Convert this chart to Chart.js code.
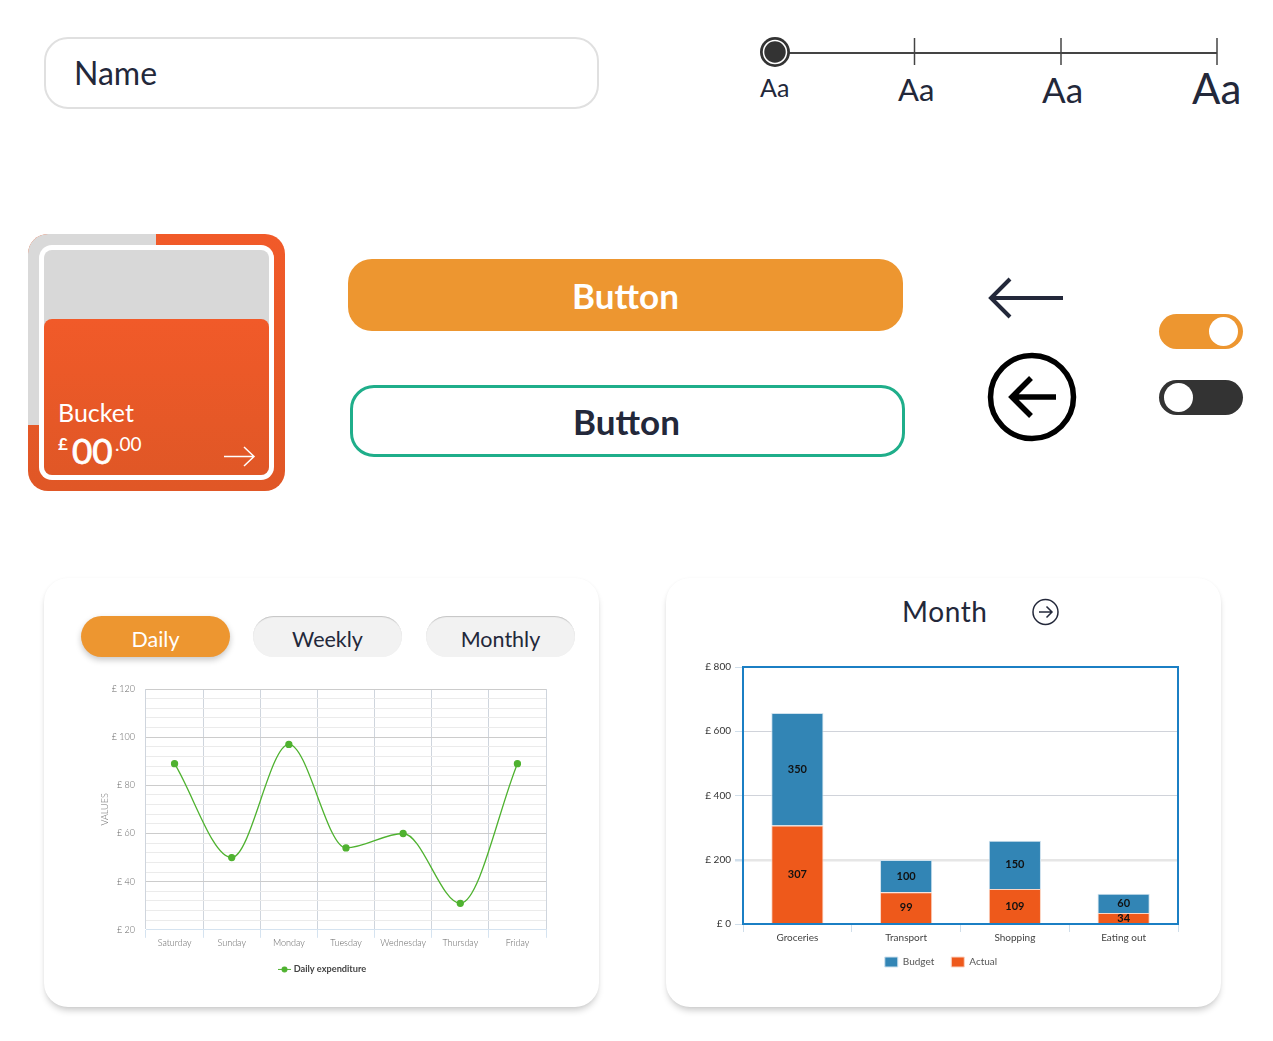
<!DOCTYPE html>
<html>
<head>
<meta charset="utf-8">
<title>UI kit</title>
<script src="https://cdn.jsdelivr.net/npm/chart.js@4"></script>
<style>
  html, body { margin: 0; padding: 0; background: #fff; overflow: hidden; }
  body { width: 1273px; height: 1041px; position: relative; font-family: Lato, sans-serif; color: #23283a; }
  .abs { position: absolute; }
  .label { position: absolute; white-space: nowrap; line-height: 1; }
  .name-box { left: 44px; top: 37px; width: 551px; height: 68px; border: 2px solid #e0e0e0; border-radius: 24px; }
  .card { background: #fff; border-radius: 24px; top: 578px; height: 429px; box-shadow: 0 5px 7px -2px rgba(0,0,0,.22), 0 0 3px rgba(0,0,0,.04); }
  .pill { position: absolute; top: 616px; height: 41px; width: 149px; border-radius: 21px; text-align: center; line-height: 46px; font-size: 21.5px; background: #f2f2f2; box-shadow: inset 0 2px 1px -1px #c4c4c4, inset 1px 0 1px -1px #ddd, inset -1px 0 1px -1px #ddd; }
  .toggle { position: absolute; left: 1159px; width: 84px; height: 35px; border-radius: 18px; }
  .knob { position: absolute; top: 3px; width: 29px; height: 29px; border-radius: 50%; background: #fff; }
  canvas { position: absolute; }
</style>
</head>
<body>
  <div class="abs name-box"></div>
  <div class="label" style="left:74px;top:57px;font-size:32px">Name</div>

  <svg class="abs" style="left:0;top:0" width="1273" height="120">
    <line x1="788" y1="53" x2="1217" y2="53" stroke="#444" stroke-width="2"/>
    <line x1="914.5" y1="38" x2="914.5" y2="65" stroke="#444" stroke-width="1.5"/>
    <line x1="1061" y1="38" x2="1061" y2="65" stroke="#444" stroke-width="1.5"/>
    <line x1="1217" y1="38" x2="1217" y2="65" stroke="#444" stroke-width="1.5"/>
    <circle cx="775" cy="52" r="15" fill="#333"/>
    <circle cx="775" cy="52" r="11.5" fill="#333" stroke="#fff" stroke-width="1.5"/>
  </svg>
  <div class="label" style="left:760px;top:75px;font-size:25px">Aa</div>
  <div class="label" style="left:898px;top:74px;font-size:31px">Aa</div>
  <div class="label" style="left:1042px;top:72px;font-size:35px">Aa</div>
  <div class="label" style="left:1192px;top:67px;font-size:42px">Aa</div>

  <!-- bucket -->
  <div class="abs" style="left:28px;top:234px;width:257px;height:257px;border-radius:20px;overflow:hidden;background:linear-gradient(#f15a29,#e05726)">
    <div class="abs" style="left:0;top:0;width:128px;height:191px;background:#d9d9d9"></div>
    <div class="abs" style="left:11px;top:11px;width:235px;height:235px;border-radius:13px;background:#fff"></div>
    <div class="abs" style="left:16px;top:16px;width:225px;height:225px;border-radius:8px;background:#d8d8d8"></div>
    <div class="abs" style="left:16px;top:85px;width:225px;height:156px;border-radius:8px;background:linear-gradient(#f15a29,#e05726)"></div>
  </div>
  <div class="label" style="left:58px;top:400px;font-size:25px;color:#fff">Bucket</div>
  <div class="label" style="left:58px;top:435px;font-size:17px;font-weight:700;color:#fff">£</div>
  <div class="label" style="left:72px;top:433px;font-size:35px;color:#fff;-webkit-text-stroke:.8px #fff">00</div>
  <div class="label" style="left:115px;top:434px;font-size:19px;color:#fff">.00</div>
  <svg class="abs" style="left:222px;top:445px" width="36" height="24" fill="none" stroke="#fff" stroke-width="1.5">
    <path d="M2 11.5H32M22 2L32 11.5L22 21"/>
  </svg>

  <!-- buttons -->
  <div class="abs" style="left:348px;top:259px;width:555px;height:72px;border-radius:24px;background:#ed9630;color:#fff;font-size:35px;font-weight:700;text-align:center;line-height:73px">Button</div>
  <div class="abs" style="left:350px;top:385px;width:547px;height:66px;padding-right:2px;border:3px solid #1fae8a;border-radius:24px;font-size:35px;font-weight:700;text-align:center;line-height:67px">Button</div>

  <svg class="abs" style="left:980px;top:270px" width="100" height="180" fill="none">
    <path d="M83 28H11M30 9L11 28L30 47" stroke="#23283a" stroke-width="4"/>
    <circle cx="52" cy="127" r="41.5" stroke="#000" stroke-width="5.5"/>
    <path d="M76 127H32M51 108L32 127L51 146" stroke="#000" stroke-width="5.5"/>
  </svg>

  <div class="toggle" style="top:314px;background:#ed9630"><div class="knob" style="left:50px"></div></div>
  <div class="toggle" style="top:380px;background:#333"><div class="knob" style="left:5px"></div></div>

  <!-- cards -->
  <div class="abs card" style="left:44px;width:555px"></div>
  <div class="abs card" style="left:666px;width:555px"></div>

  <div class="pill" style="left:81px;background:#ed9630;color:#fff;box-shadow:0 3px 6px rgba(0,0,0,.22)">Daily</div>
  <div class="pill" style="left:253px">Weekly</div>
  <div class="pill" style="left:426px">Monthly</div>

  <div class="label" style="left:902px;top:597px;font-size:28px;letter-spacing:.6px">Month</div>
  <svg class="abs" style="left:1030px;top:597px" width="30" height="30" fill="none" stroke="#23283a" stroke-width="1.5">
    <circle cx="15.5" cy="15" r="12.5"/>
    <path d="M9 15H22M16.5 9.5L22 15L16.5 20.5"/>
  </svg>

  <canvas id="lineChart" width="466" height="304" style="left:90px;top:680px"></canvas>
  <canvas id="barChart" width="518" height="327" style="left:682px;top:650px"></canvas>

<script>
const days = ['Saturday', 'Sunday', 'Monday', 'Tuesday', 'Wednesday', 'Thursday', 'Friday'];
const dailyExpenditure = [89, 50, 97, 54, 60, 31, 89];

const buckets = ['Groceries', 'Transport', 'Shopping', 'Eating out'];
const budget = [350, 100, 150, 60];
const actual = [307, 99, 109, 34];

const green = '#4fb230';
const thinFont = { family: 'Lato', size: 9, weight: 300 };

// little line + dot for the legend
const legendIcon = document.createElement('canvas');
legendIcon.width = 13;
legendIcon.height = 7;
const iconCtx = legendIcon.getContext('2d');
iconCtx.fillStyle = green;
iconCtx.fillRect(0, 3, 13, 1);
iconCtx.beginPath();
iconCtx.arc(6.5, 3.5, 3, 0, Math.PI * 2);
iconCtx.fill();

new Chart(document.getElementById('lineChart'), {
  type: 'line',
  data: {
    labels: days,
    datasets: [{
      label: 'Daily expenditure',
      data: dailyExpenditure,
      borderColor: green,
      backgroundColor: green,
      borderWidth: 1.3,
      pointRadius: 3,
      cubicInterpolationMode: 'monotone'
    }]
  },
  options: {
    responsive: false,
    animation: false,
    layout: { padding: { top: 9, left: 10, right: 10 } },
    plugins: {
      tooltip: { enabled: false },
      legend: {
        position: 'bottom',
        labels: {
          usePointStyle: true,
          boxHeight: 7,
          padding: 6,
          color: '#444',
          font: { family: 'Lato', size: 9.2, weight: 'bold' },
          generateLabels: () => [{ text: 'Daily expenditure', pointStyle: legendIcon, fontColor: '#444', lineWidth: 0 }]
        }
      }
    },
    scales: {
      x: {
        offset: true,
        border: { color: '#d5e3f0' },
        grid: { offset: true, color: '#cfd5dd', tickColor: '#d5e3f0', tickLength: 8 },
        ticks: { color: '#666', padding: 0, maxRotation: 0, autoSkip: false, font: thinFont },
        afterFit: scale => { scale.height = 29; }
      },
      y: {
        min: 20,
        max: 120,
        border: { display: false },
        grid: {
          tickLength: 11,
          tickColor: 'transparent',
          color: ctx => ctx.tick.value % 20 === 0 ? '#cccccc' : '#ebebeb'
        },
        title: { display: true, text: 'VALUES', color: '#777', padding: 0, font: thinFont },
        ticks: {
          stepSize: 4,
          autoSkip: false,
          color: '#666',
          padding: 0,
          font: thinFont,
          callback: v => v % 20 === 0 ? '£ ' + v : ''
        },
        afterFit: scale => { scale.width = 46; }
      }
    }
  }
});

// blue frame and the numbers inside the bars
const barExtras = {
  id: 'barExtras',
  // x labels get clipped to the scale box, let them run past the legend top
  afterLayout(chart) {
    chart.scales.x.bottom = chart.height;
  },
  afterDatasetsDraw(chart) {
    const { ctx, chartArea } = chart;
    ctx.save();
    ctx.strokeStyle = '#1b7fc4';
    ctx.lineWidth = 2;
    ctx.strokeRect(chartArea.left, chartArea.top, chartArea.right - chartArea.left, chartArea.bottom - chartArea.top);
    ctx.fillStyle = '#111';
    ctx.font = 'bold 11px Lato';
    ctx.textAlign = 'center';
    ctx.textBaseline = 'middle';
    chart.data.datasets.forEach((ds, i) => {
      chart.getDatasetMeta(i).data.forEach((bar, j) => {
        const p = bar.getProps(['x', 'y', 'base'], true);
        ctx.fillText(ds.data[j], p.x, (p.y + p.base) / 2);
      });
    });
    ctx.restore();
  }
};

new Chart(document.getElementById('barChart'), {
  type: 'bar',
  data: {
    labels: buckets,
    datasets: [
      { label: 'Budget', data: budget, backgroundColor: '#3285b5', borderColor: '#cfe2ee', borderWidth: 1, order: 2 },
      { label: 'Actual', data: actual, backgroundColor: '#ee591b', borderColor: '#fbd5c4', borderWidth: 1, order: 1 }
    ]
  },
  options: {
    responsive: false,
    animation: false,
    layout: { padding: { top: 17, left: 22, right: 22 } },
    plugins: {
      tooltip: { enabled: false },
      legend: {
        position: 'bottom',
        labels: {
          boxWidth: 13,
          boxHeight: 10,
          padding: 17,
          color: '#555',
          font: { family: 'Lato', size: 10 },
          sort: (a, b) => a.datasetIndex - b.datasetIndex
        }
      }
    },
    datasets: { bar: { categoryPercentage: 1, barPercentage: 0.48 } },
    scales: {
      x: {
        stacked: true,
        border: { color: '#d5e3f0' },
        grid: { display: true, drawOnChartArea: false, tickColor: '#d0deea', tickLength: 8 },
        ticks: { color: '#444', padding: 0, font: { family: 'Lato', size: 10 } },
        afterFit: scale => { scale.height = 16; }
      },
      y: {
        stacked: true,
        min: 0,
        max: 800,
        border: { display: false },
        grid: {
          color: ctx => ctx.tick.value === 200 ? '#e6e6e6' : '#d0d3da',
          lineWidth: ctx => ctx.tick.value === 200 ? 2.5 : 1,
          tickColor: '#d0deea',
          tickLength: 8
        },
        ticks: { stepSize: 200, color: '#333', padding: 4, font: { family: 'Lato', size: 10 }, callback: v => '£ ' + v },
        afterFit: scale => { scale.width = 39; }
      }
    }
  },
  plugins: [barExtras]
});
</script>
</body>
</html>
